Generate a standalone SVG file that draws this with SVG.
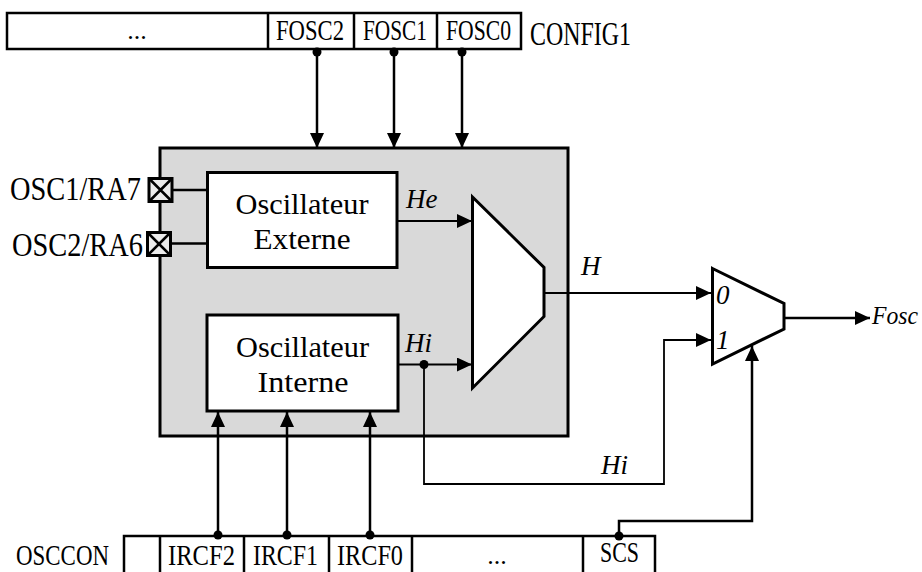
<svg xmlns="http://www.w3.org/2000/svg" width="922" height="572" viewBox="0 0 922 572">
<style>
.t{font-family:"Liberation Serif","DejaVu Serif",serif;fill:#000}
.i{font-family:"Liberation Serif","DejaVu Serif",serif;font-style:italic;fill:#000}
.box{fill:#fff;stroke:#000;stroke-width:3}
.reg{fill:#fff;stroke:#000;stroke-width:2.5}
.ln{fill:none;stroke:#000;stroke-width:2.5}
.thin{fill:none;stroke:#000;stroke-width:1.8}
.dot{fill:#000}
</style>
<defs>
<marker id="ah" viewBox="0 0 15 14" refX="15" refY="7" markerWidth="15" markerHeight="14" orient="auto" markerUnits="userSpaceOnUse">
<path d="M0,0 L15,7 L0,14 Z" fill="#000"/>
</marker>
</defs>

<g id="config1">
<rect class="reg" x="7" y="13" width="514" height="36"/>
<line class="reg" x1="268" y1="13" x2="268" y2="49"/>
<line class="reg" x1="354" y1="13" x2="354" y2="49"/>
<line class="reg" x1="437" y1="13" x2="437" y2="49"/>
<text class="t" x="137" y="39" font-size="26" text-anchor="middle">...</text>
<text class="t" x="276" y="40" font-size="29" textLength="68" lengthAdjust="spacingAndGlyphs">FOSC2</text>
<text class="t" x="363" y="40" font-size="29" textLength="64" lengthAdjust="spacingAndGlyphs">FOSC1</text>
<text class="t" x="446" y="40" font-size="29" textLength="65" lengthAdjust="spacingAndGlyphs">FOSC0</text>
<text class="t" x="530" y="45" font-size="33" textLength="101" lengthAdjust="spacingAndGlyphs">CONFIG1</text>
</g>

<g id="oscillator-block">
<rect x="160" y="148" width="408" height="288" fill="#d9d9d9" stroke="#000" stroke-width="3"/>
</g>

<g id="pins">
<text class="t" x="141" y="200" font-size="33" text-anchor="end" textLength="131" lengthAdjust="spacingAndGlyphs">OSC1/RA7</text>
<text class="t" x="143" y="256" font-size="33" text-anchor="end" textLength="131" lengthAdjust="spacingAndGlyphs">OSC2/RA6</text>
<rect x="149" y="178.5" width="23" height="23" fill="#ececec" stroke="#000" stroke-width="3"/>
<path d="M149,178.5 L172,201.5 M172,178.5 L149,201.5" stroke="#000" stroke-width="2.5"/>
<rect x="147.5" y="232.5" width="23" height="23" fill="#ececec" stroke="#000" stroke-width="3"/>
<path d="M147.5,232.5 L170.5,255.5 M170.5,232.5 L147.5,255.5" stroke="#000" stroke-width="2.5"/>
</g>

<g id="osc-externe">
<rect class="box" x="207.5" y="172.5" width="189.5" height="95"/>
<text class="t" x="302" y="214" font-size="30" text-anchor="middle" textLength="133" lengthAdjust="spacingAndGlyphs">Oscillateur</text>
<text class="t" x="302" y="249" font-size="30" text-anchor="middle" textLength="97" lengthAdjust="spacingAndGlyphs">Externe</text>
</g>

<g id="osc-interne">
<rect class="box" x="207" y="315" width="191" height="96"/>
<text class="t" x="302.5" y="357" font-size="30" text-anchor="middle" textLength="133" lengthAdjust="spacingAndGlyphs">Oscillateur</text>
<text class="t" x="303" y="392" font-size="30" text-anchor="middle" textLength="91" lengthAdjust="spacingAndGlyphs">Interne</text>
</g>

<g id="mux1">
<path d="M472.5,197 L544,267.5 L544,316.5 L472.5,388 Z" fill="#fff" stroke="#000" stroke-width="3" stroke-linejoin="miter"/>
</g>

<g id="mux2">
<path d="M712.5,268.5 L784,303.5 L784,329 L712.5,364 Z" fill="#fff" stroke="#000" stroke-width="3"/>
<text class="i" x="716" y="304" font-size="27">0</text>
<text class="i" x="716" y="349" font-size="27">1</text>
</g>

<g id="osccon">
<path class="reg" d="M124,580 L124,536 L655,536 L655,580 M160,536 L160,580 M244,536 L244,580 M329,536 L329,580 M412,536 L412,580 M583,536 L583,580"/>
<text class="t" x="16" y="565" font-size="30" textLength="93" lengthAdjust="spacingAndGlyphs">OSCCON</text>
<text class="t" x="168" y="565" font-size="29" textLength="67" lengthAdjust="spacingAndGlyphs">IRCF2</text>
<text class="t" x="253" y="565" font-size="29" textLength="65" lengthAdjust="spacingAndGlyphs">IRCF1</text>
<text class="t" x="337" y="565" font-size="29" textLength="66" lengthAdjust="spacingAndGlyphs">IRCF0</text>
<text class="t" x="497" y="564" font-size="26" text-anchor="middle">...</text>
<text class="t" x="600" y="562" font-size="29" textLength="39" lengthAdjust="spacingAndGlyphs">SCS</text>
</g>

<g id="connectors">
<line class="ln" x1="317" y1="51" x2="317" y2="148" marker-end="url(#ah)"/>
<line class="ln" x1="394" y1="51" x2="394" y2="148" marker-end="url(#ah)"/>
<line class="ln" x1="462" y1="51" x2="462" y2="148" marker-end="url(#ah)"/>
<circle class="dot" cx="317" cy="52" r="4.5"/>
<circle class="dot" cx="394" cy="52" r="4.5"/>
<circle class="dot" cx="462" cy="52" r="4.5"/>

<line class="ln" x1="172" y1="190" x2="207" y2="190"/>
<line class="ln" x1="170.5" y1="243.5" x2="207" y2="243.5"/>

<line class="thin" x1="397" y1="221" x2="472" y2="221" marker-end="url(#ah)"/>
<text class="i" x="406" y="208" font-size="27">He</text>
<line class="thin" x1="398" y1="364.5" x2="472" y2="364.5" marker-end="url(#ah)"/>
<text class="i" x="405" y="352" font-size="27">Hi</text>
<circle class="dot" cx="424" cy="364.5" r="4.5"/>
<polyline class="thin" points="424,364.5 424,484 664,484 664,340 711,340" marker-end="url(#ah)"/>
<text class="i" x="601" y="474" font-size="27">Hi</text>

<line class="thin" x1="544" y1="293" x2="711" y2="293" marker-end="url(#ah)"/>
<text class="i" x="581" y="275" font-size="27">H</text>

<line class="ln" x1="784" y1="318" x2="870" y2="318" marker-end="url(#ah)"/>
<text class="i" x="872" y="324" font-size="26" textLength="46" lengthAdjust="spacingAndGlyphs">Fosc</text>

<line class="ln" x1="218" y1="535" x2="218" y2="412" marker-end="url(#ah)"/>
<line class="ln" x1="287" y1="535" x2="287" y2="412" marker-end="url(#ah)"/>
<line class="ln" x1="370" y1="535" x2="370" y2="412" marker-end="url(#ah)"/>
<circle class="dot" cx="218" cy="535" r="4.5"/>
<circle class="dot" cx="287" cy="535" r="4.5"/>
<circle class="dot" cx="370" cy="535" r="4.5"/>

<polyline class="ln" points="619,536 619,521 752,521 752,346" marker-end="url(#ah)"/>
<circle class="dot" cx="619" cy="536" r="4.5"/>
</g>
</svg>
